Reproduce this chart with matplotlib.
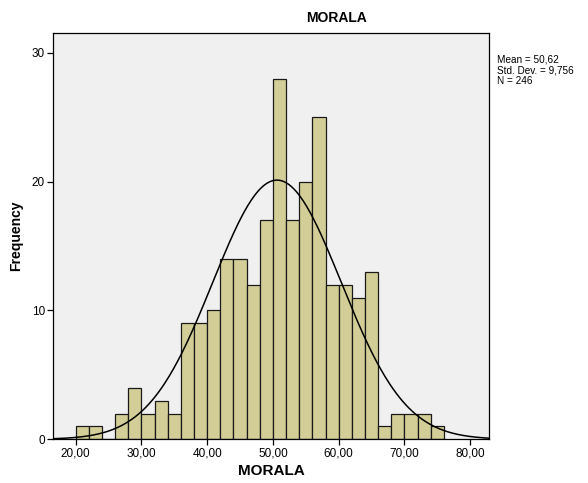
import numpy as np
import matplotlib
matplotlib.use("Agg")
import matplotlib.pyplot as plt

# ---------- data ----------
bin_edges_start = 20.0
bin_width = 2.0
counts = [1, 1, 0, 2, 4, 2, 3, 2, 9, 9, 10, 14, 14, 12, 17, 28,
          17, 20, 25, 12, 12, 11, 13, 1, 2, 2, 2, 1]
mean = 50.62
std_dev = 9.756
n_total = 246
x_ticks = [20, 30, 40, 50, 60, 70, 80]
x_tick_labels = ["20,00", "30,00", "40,00", "50,00", "60,00", "70,00", "80,00"]
y_ticks = [0, 10, 20, 30]
# -------------------------------------------------

plt.rcParams['font.family'] = ['Liberation Sans', 'DejaVu Sans']

fig = plt.figure(figsize=(5.88, 4.83), dpi=100)
ax = fig.add_axes([0.0907, 0.0905, 0.832 - 0.0907, 0.932 - 0.0905])
ax.set_facecolor("#F0F0F0")

lefts = bin_edges_start + bin_width * np.arange(len(counts))
ax.bar(lefts, counts, width=bin_width, align="edge",
       color="#D3CE97", edgecolor="#1a1a1a", linewidth=0.9, zorder=2)

# fitted normal curve scaled to counts
xs = np.linspace(16.6, 82.9, 400)
pdf = np.exp(-0.5 * ((xs - mean) / std_dev) ** 2) / (std_dev * np.sqrt(2 * np.pi))
ax.plot(xs, n_total * bin_width * pdf, color="black", linewidth=1.1, zorder=3)

ax.set_xlim(16.6, 82.9)
ax.set_ylim(0, 31.55)
ax.set_xticks(x_ticks)
ax.set_xticklabels(x_tick_labels)
ax.set_yticks(y_ticks)
ax.tick_params(axis="both", labelsize=8.5, length=4, width=0.9, direction="out", pad=2)
for s in ax.spines.values():
    s.set_linewidth(0.9)

ax.set_xlabel("MORALA", fontsize=11, fontweight="bold", labelpad=3)
ax.set_ylabel("Frequency", fontsize=10, fontweight="bold", labelpad=6)
fig.text(0.573, 0.963, "MORALA", ha="center", va="center",
         fontsize=10, fontweight="bold")

def comma(v, nd):
    return f"{v:.{nd}f}".replace(".", ",")

stats_text = (f"Mean = {comma(mean, 2)}\n"
              f"Std. Dev. = {comma(std_dev, 3)}\n"
              f"N = {n_total}")
fig.text(0.845, 0.888, stats_text, ha="left", va="top",
         fontsize=7.2, linespacing=1.15)

fig.savefig("out.png", dpi=100)
